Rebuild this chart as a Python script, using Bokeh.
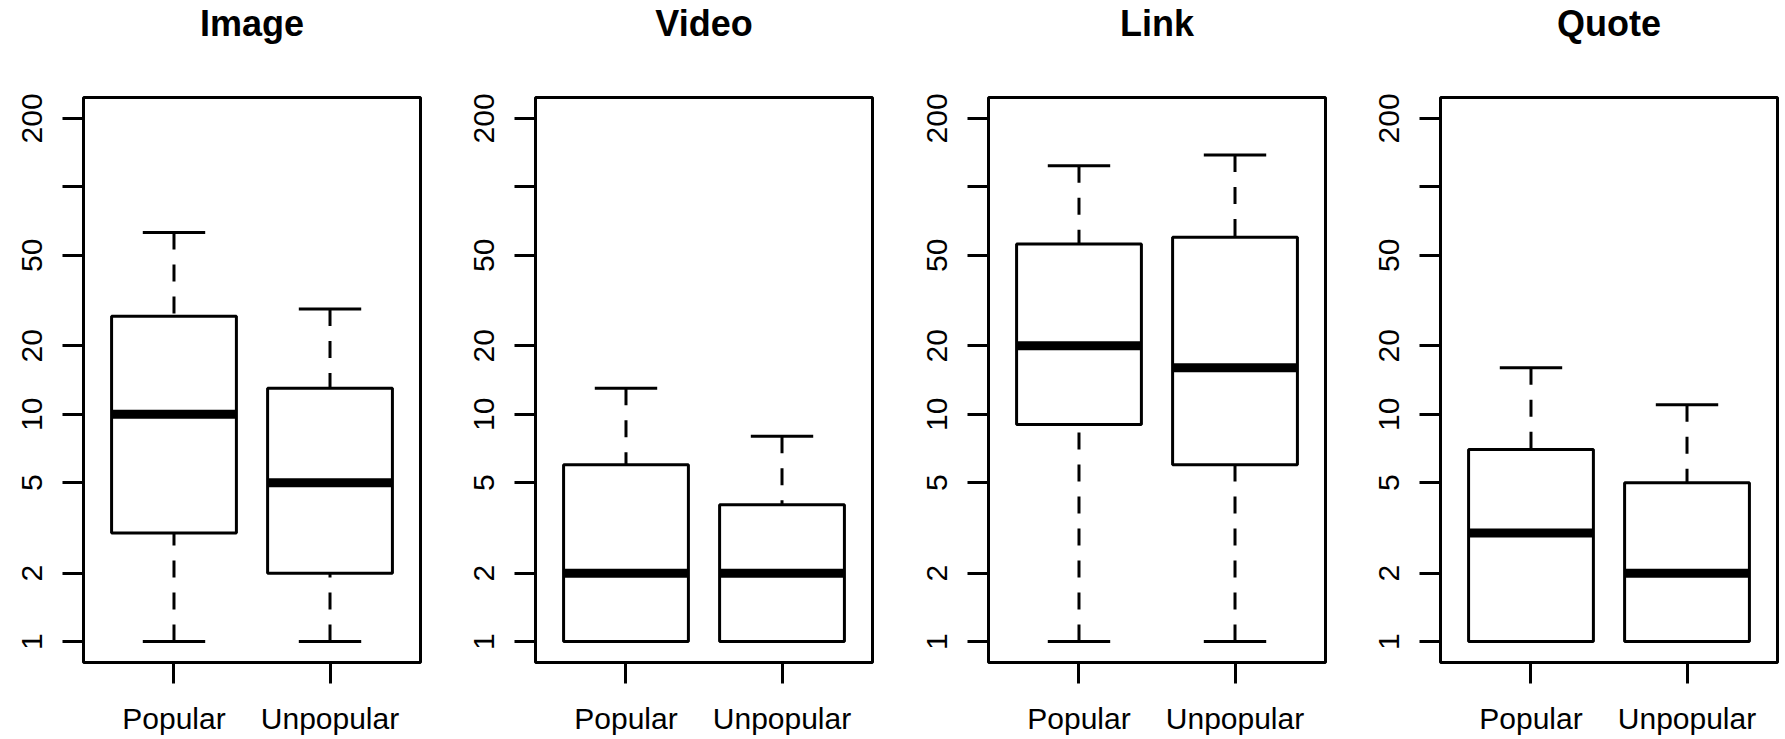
from bokeh.plotting import figure
from bokeh.layouts import row
from bokeh.models import Range1d, FixedTicker, ColumnDataSource, Title
from bokeh.embed import file_html
from bokeh.resources import INLINE

# Post types (one panel each) and the two groups compared within each panel
panels = ["Image", "Video", "Link", "Quote"]
groups = ["Popular", "Unpopular"]

# Five-number summaries per panel: [Popular, Unpopular]
whisker_low = [[1, 1], [1, 1], [1, 1], [1, 1]]
quartile_1 = [[3, 2], [1, 1], [9, 6], [1, 1]]
median = [[10, 5], [2, 2], [20, 16], [3, 2]]
quartile_3 = [[27, 13], [6, 4], [56, 60], [7, 5]]
whisker_high = [[63, 29], [13, 8], [124, 138], [16, 11]]

# Log-scale y axis ticks; the 100 tick carries no label
y_ticks = [1, 2, 5, 10, 20, 50, 100, 200]
y_tick_labels = ["1", "2", "5", "10", "20", "50", "", "200"]

FONT = "Liberation Sans"
LW = 3
BOX_HALF = 0.4
STAPLE_HALF = 0.2

# y range: 1..200 on a log scale, padded by 4% of the span on each side
LOG_LO, LOG_HI = 0.0, 2.30103
PAD = 0.04 * (LOG_HI - LOG_LO)
Y_START, Y_END = 10 ** (LOG_LO - PAD), 10 ** (LOG_HI + PAD)

fig_widths = [452, 453, 452, 428]
right_borders = [32, 33, 32, 8]

figs = []
for i, name in enumerate(panels):
    xs = [k + 1 for k in range(len(groups))]
    src = ColumnDataSource(dict(
        x=xs,
        lo=whisker_low[i],
        q1=quartile_1[i],
        med=median[i],
        q3=quartile_3[i],
        hi=whisker_high[i],
        box_l=[x - BOX_HALF for x in xs],
        box_r=[x + BOX_HALF for x in xs],
        cap_l=[x - STAPLE_HALF for x in xs],
        cap_r=[x + STAPLE_HALF for x in xs],
    ))

    p = figure(
        width=fig_widths[i], height=739,
        title=None,
        x_range=Range1d(0.42, 2.58),
        y_range=Range1d(Y_START, Y_END),
        y_axis_type="log",
        output_backend="svg", toolbar_location=None,
        min_border_left=83, min_border_right=right_borders[i],
        min_border_top=96, min_border_bottom=77,
        background_fill_color="white", border_fill_color="white",
    )
    p.grid.visible = False
    p.outline_line_color = "black"
    p.outline_line_width = LW

    # Gap between the frame and the panel title
    p.add_layout(Title(text=" ", text_font_size="1px", standoff=51,
                       text_color="white"), "above")
    # Panel title, centred above the frame
    p.add_layout(Title(text=name, align="center", standoff=0,
                       text_font=FONT, text_font_style="bold",
                       text_font_size="36px", text_color="black"), "above")

    # Axes
    for ax in (p.xaxis, p.yaxis):
        ax.axis_line_color = None
        ax.major_tick_line_color = "black"
        ax.major_tick_line_width = LW
        ax.major_tick_out = 21
        ax.major_tick_in = 0
        ax.minor_tick_line_color = None
        ax.major_label_text_font = FONT
        ax.major_label_text_font_size = "30px"
        ax.major_label_text_color = "black"

    p.xaxis.ticker = FixedTicker(ticks=xs)
    p.xaxis.major_label_overrides = {x: g for x, g in zip(xs, groups)}
    p.xaxis.major_label_standoff = 18

    p.yaxis.ticker = FixedTicker(ticks=y_ticks)
    p.yaxis.major_label_overrides = {t: lab for t, lab in zip(y_ticks, y_tick_labels)}
    p.yaxis.major_label_orientation = "vertical"
    p.yaxis.major_label_standoff = 20

    # Dashed whiskers, drawn from the staple toward the box
    p.segment(x0="x", y0="hi", x1="x", y1="q3", source=src,
              line_color="black", line_width=LW, line_dash="17 15")
    p.segment(x0="x", y0="lo", x1="x", y1="q1", source=src,
              line_color="black", line_width=LW, line_dash="17 15")
    # Staples
    p.segment(x0="cap_l", y0="hi", x1="cap_r", y1="hi", source=src,
              line_color="black", line_width=LW)
    p.segment(x0="cap_l", y0="lo", x1="cap_r", y1="lo", source=src,
              line_color="black", line_width=LW)
    # Boxes
    p.quad(left="box_l", right="box_r", bottom="q1", top="q3", source=src,
           fill_color="white", line_color="black", line_width=LW)
    # Medians
    p.segment(x0="box_l", y0="med", x1="box_r", y1="med", source=src,
              line_color="black", line_width=9)

    figs.append(p)

layout = row(*figs)
open("out.html", "w").write(file_html(layout, INLINE))
